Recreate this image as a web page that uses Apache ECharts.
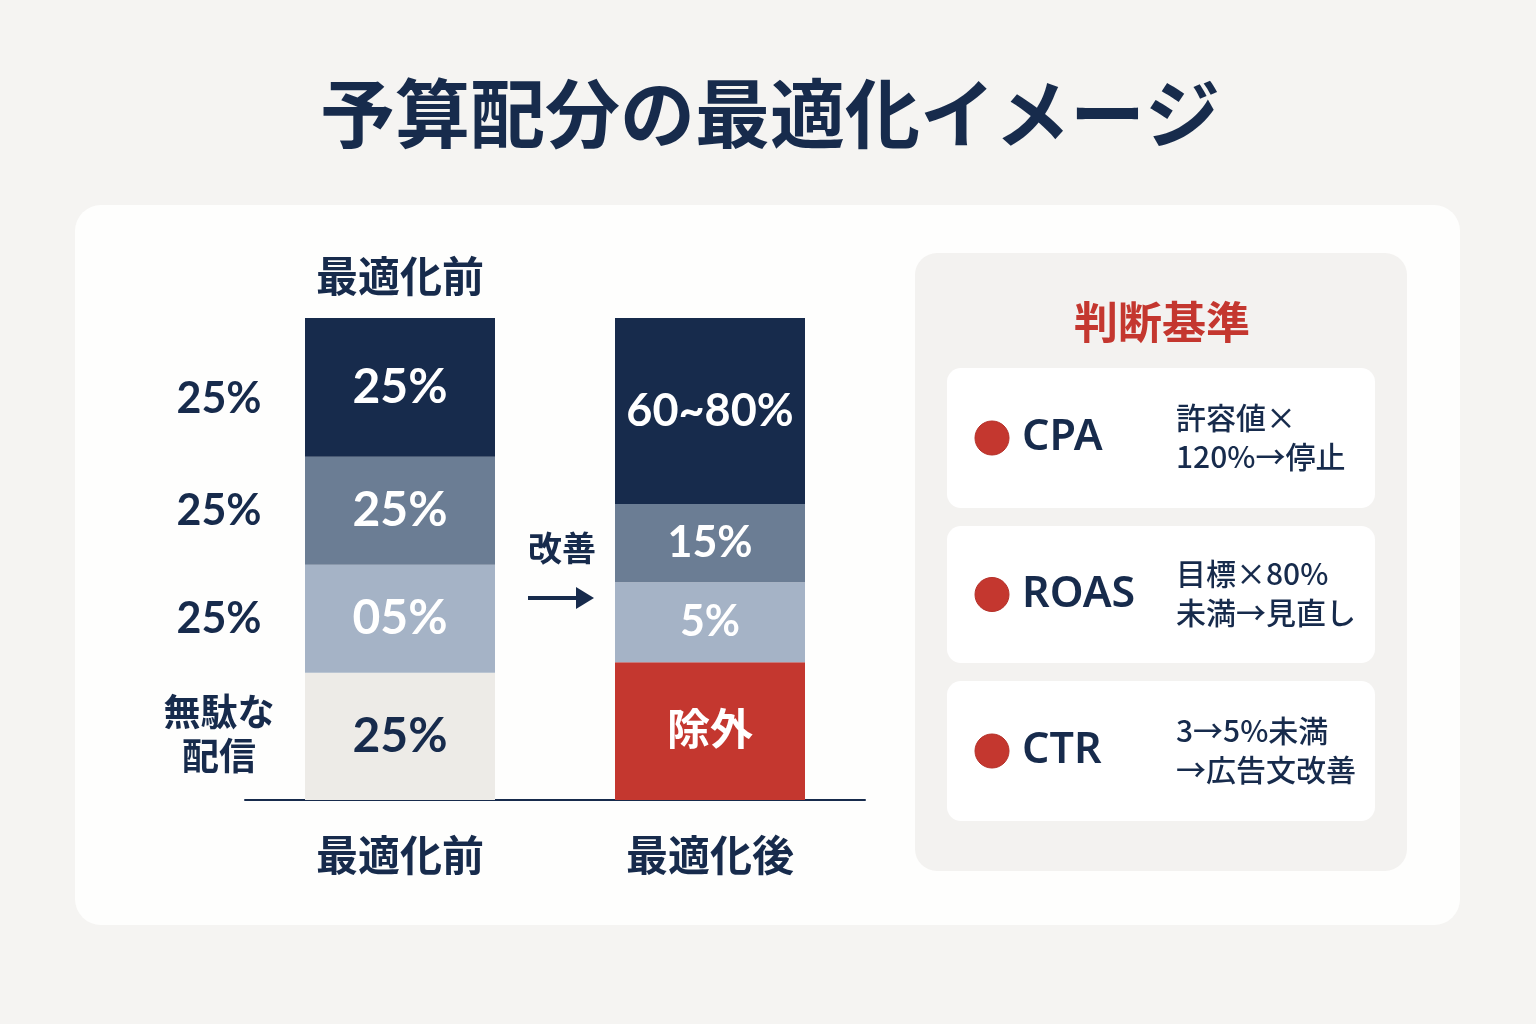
<!DOCTYPE html>
<html>
<head>
<meta charset="utf-8">
<title>予算配分の最適化イメージ</title>
<script src="https://cdn.jsdelivr.net/npm/echarts@6/dist/echarts.min.js"></script>
<style>
  html, body { margin: 0; padding: 0; background: #f5f4f2; }
  #chart { width: 1536px; height: 1024px; }
</style>
</head>
<body>
<div id="chart"></div>
<script>
const categories = ['最適化前', '最適化後'];
// segment shares, bottom -> top
const beforeShares = [26.4, 22.4, 22.4, 28.8];
const afterShares = [28.6, 16.6, 16.2, 38.6];
const beforeLabels = ['25%', '05%', '25%', '25%'];
const afterLabels = ['除外', '5%', '15%', '60~80%'];
const sideLabels = ['無駄な\n配信', '25%', '25%', '25%'];
const criteriaNames = ['CPA', 'ROAS', 'CTR'];
const criteriaRules = ['許容値×\n120%→停止', '目標×80%\n未満→見直し', '3→5%未満\n→広告文改善'];

const NAVY = '#172b4c';
const RED = '#c4372f';
const beforeColors = ['#edebe7', '#a5b3c6', '#6b7d94', NAVY];
const afterColors = [RED, '#a5b3c6', '#6b7d94', NAVY];
const CJK = "'Noto Sans CJK JP', sans-serif";
const NUM = "Lato, 'Noto Sans CJK JP', sans-serif";

const chart = echarts.init(document.getElementById('chart'));

// stacked segments, one series per level
const series = beforeShares.map((v, i) => ({
  type: 'bar',
  stack: 'budget',
  barWidth: 190,
  barGap: '-100%',
  emphasis: { disabled: true },
  label: { show: true, position: 'inside', color: '#fff', fontFamily: NUM, fontWeight: 'bold' },
  data: [
    {
      value: v,
      itemStyle: { color: beforeColors[i] },
      label: { formatter: beforeLabels[i], color: i === 0 ? NAVY : '#fff', fontSize: 48 }
    },
    {
      value: afterShares[i],
      itemStyle: { color: afterColors[i] },
      label: { formatter: afterLabels[i], fontSize: i === 3 ? 45 : 43 }
    }
  ]
}));

// invisible copy of the left bar, only to carry the labels on its left side
beforeShares.forEach((v, i) => {
  series.push({
    type: 'bar',
    stack: 'side',
    barWidth: 190,
    barGap: '-100%',
    silent: true,
    itemStyle: { color: 'rgba(0,0,0,0)' },
    label: {
      show: true,
      position: [-86, '50%'],
      align: 'center',
      verticalAlign: 'middle',
      formatter: sideLabels[i],
      color: NAVY,
      fontFamily: NUM,
      fontWeight: 'bold',
      fontSize: i === 0 ? 37 : 43,
      lineHeight: 44,
      offset: i === 3 ? [0, 12] : [0, 0]
    },
    data: [v, '-']
  });
});

const graphic = [
  { type: 'rect', z: 0, shape: { x: 75, y: 205, width: 1385, height: 720, r: 26 }, style: { fill: '#fefefd' } },
  { type: 'rect', z: 0, shape: { x: 915, y: 253, width: 492, height: 618, r: 22 }, style: { fill: '#f3f2f0' } },
  {
    type: 'text', z: 10, x: 770, y: 113,
    style: { text: '予算配分の最適化イメージ', fill: NAVY, fontSize: 75, fontWeight: 'bold', fontFamily: CJK, align: 'center', verticalAlign: 'middle' }
  },
  {
    type: 'text', z: 10, x: 400, y: 276,
    style: { text: '最適化前', fill: NAVY, fontSize: 42, fontWeight: 'bold', fontFamily: CJK, align: 'center', verticalAlign: 'middle' }
  },
  {
    type: 'text', z: 10, x: 562, y: 548,
    style: { text: '改善', fill: NAVY, fontSize: 34, fontWeight: 'bold', fontFamily: CJK, align: 'center', verticalAlign: 'middle' }
  },
  { type: 'line', z: 10, shape: { x1: 528, y1: 598, x2: 580, y2: 598 }, style: { stroke: NAVY, lineWidth: 4 } },
  { type: 'polygon', z: 10, shape: { points: [[576, 587], [594, 598], [576, 609]] }, style: { fill: NAVY } },
  {
    type: 'text', z: 10, x: 1162, y: 322,
    style: { text: '判断基準', fill: RED, fontSize: 44, fontWeight: 'bold', fontFamily: CJK, align: 'center', verticalAlign: 'middle' }
  }
];

const cardTops = [368, 526, 681];
const cardHeights = [140, 137, 140];
criteriaNames.forEach((name, i) => {
  const cy = cardTops[i] + cardHeights[i] / 2;
  graphic.push(
    { type: 'rect', z: 1, shape: { x: 947, y: cardTops[i], width: 428, height: cardHeights[i], r: 14 }, style: { fill: '#ffffff' } },
    { type: 'circle', z: 10, shape: { cx: 992, cy: cy, r: 17 }, style: { fill: RED, stroke: '#b52f28', lineWidth: 1 } },
    {
      type: 'text', z: 10, x: 1022, y: cy,
      style: { text: name, fill: NAVY, fontSize: 43, fontWeight: 600, fontFamily: "'Noto Sans', sans-serif", align: 'left', verticalAlign: 'middle' }
    },
    {
      type: 'text', z: 10, x: 1176, y: cy - 1,
      style: { text: criteriaRules[i], fill: NAVY, fontSize: 30, lineHeight: 39, fontWeight: 500, fontFamily: CJK, align: 'left', verticalAlign: 'middle' }
    }
  );
});

chart.setOption({
  backgroundColor: '#f5f4f2',
  animation: false,
  grid: { left: 245, top: 318, width: 620, height: 482 },
  xAxis: {
    type: 'category',
    data: categories,
    axisLine: { lineStyle: { color: NAVY, width: 2 } },
    axisTick: { show: false },
    axisLabel: { margin: 34, color: NAVY, fontSize: 42, fontWeight: 'bold', fontFamily: CJK }
  },
  yAxis: {
    type: 'value',
    min: 0,
    max: 100,
    show: false
  },
  graphic: graphic,
  series: series
});
</script>
</body>
</html>
